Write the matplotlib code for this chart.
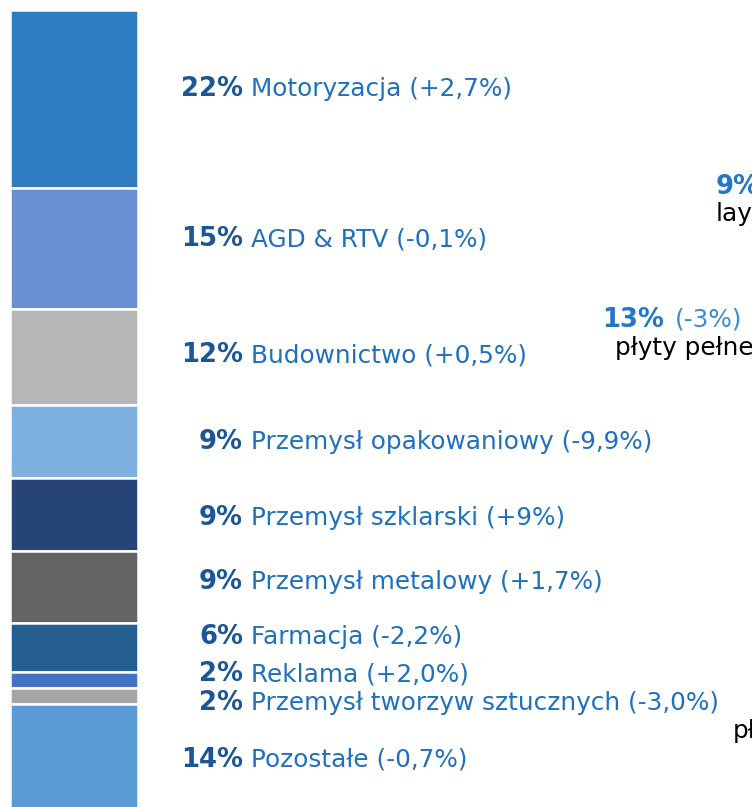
import matplotlib
matplotlib.use("Agg")
import matplotlib.pyplot as plt
import numpy as np

# ---- data ----
categories = ["Motoryzacja", "AGD & RTV", "Budownictwo", "Przemysł opakowaniowy",
              "Przemysł szklarski", "Przemysł metalowy", "Farmacja", "Reklama",
              "Przemysł tworzyw sztucznych", "Pozostałe"]
shares = [22, 15, 12, 9, 9, 9, 6, 2, 2, 14]
changes = ["+2,7%", "-0,1%", "+0,5%", "-9,9%", "+9%", "+1,7%", "-2,2%", "+2,0%", "-3,0%", "-0,7%"]
# label vertical offset from segment centre (in % units)
label_offsets = [-1.2, -1.1, -0.2, 0.0, 0.5, -0.6, -1.3, -0.7, 0.9, -0.1]

colors = ["#2F7CC1", "#6A8FD0", "#B6B6B6", "#7EB0E0", "#264478",
          "#636363", "#255E91", "#4472C4", "#A5A5A5", "#5B9BD5"]

pct_color = "#1B5797"
name_color = "#1F70BD"

W, H = 752, 807
fig = plt.figure(figsize=(W / 100, H / 100), dpi=100)
ax = fig.add_axes([0, 0, 1, 1])
ax.set_xlim(0, W)
scale = 8.07
ax.set_ylim(-10 / scale + (H / scale), -10 / scale)  # inverted: top = 0%
ax.axis("off")

bottoms = np.concatenate([[0], np.cumsum(shares)[:-1]])
ax.bar([73.5] * len(shares), shares, bottom=bottoms, width=128,
       color=colors, edgecolor="white", linewidth=1.8, align="center")

fs = 17.8
fsb = 18.6
for s, b, cat, ch, off in zip(shares, bottoms, categories, changes, label_offsets):
    yc = b + s / 2 + off
    ax.text(243, yc, f"{s}%", ha="right", va="center", fontsize=fsb,
            fontweight="bold", color=pct_color, family="DejaVu Sans")
    ax.text(251, yc, f"{cat} ({ch})", ha="left", va="center", fontsize=fs,
            color=name_color, family="DejaVu Sans")

# fragments of neighbouring chart (cut off at the right edge, as in the source)
def ypx(p):
    return (p - 10) / scale

ax.text(716, ypx(187), "9%", ha="left", va="center", fontsize=fsb,
        fontweight="bold", color="#2277C9")
ax.text(716, ypx(214), "lay", ha="left", va="center", fontsize=fs, color="black")
ax.text(602, ypx(320), "13%", ha="left", va="center", fontsize=fsb,
        fontweight="bold", color="#2277C9")
ax.text(675, ypx(320), "(-3%)", ha="left", va="center", fontsize=fs, color="#3C8AD6")
ax.text(615, ypx(348), "płyty pełne", ha="left", va="center", fontsize=fs, color="black")
ax.text(733, ypx(731), "pł", ha="left", va="center", fontsize=fs, color="black")

fig.savefig("out.png", dpi=100)
